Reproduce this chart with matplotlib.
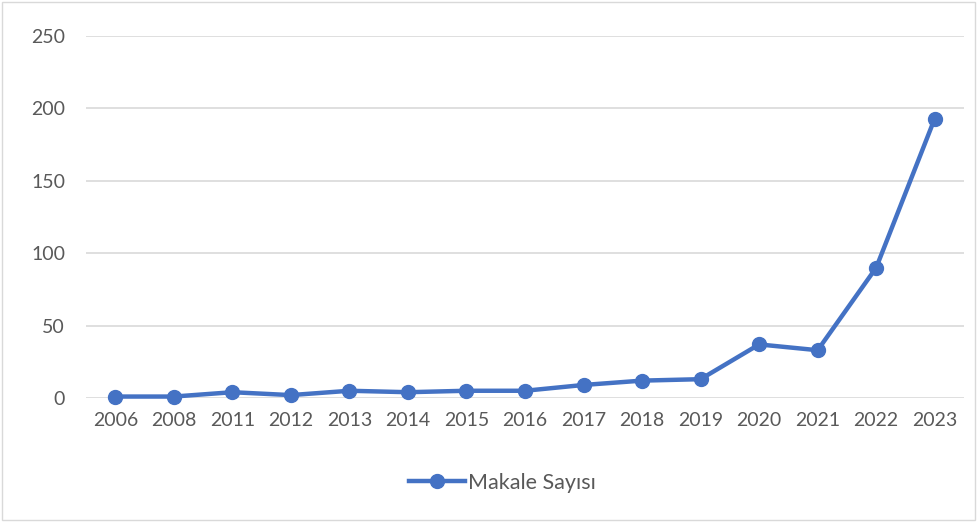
import matplotlib
matplotlib.use('Agg')
import matplotlib.pyplot as plt

years = ['2006', '2008', '2011', '2012', '2013', '2014', '2015', '2016',
         '2017', '2018', '2019', '2020', '2021', '2022', '2023']
article_counts = [1, 1, 4, 2, 5, 4, 5, 5, 9, 12, 13, 37, 33, 90, 193]
y_ticks = [0, 50, 100, 150, 200, 250]

line_color = '#4472C4'
text_color = '#595959'
plt.rcParams['font.family'] = ['Lato', 'DejaVu Sans']

fig = plt.figure(figsize=(9.79, 5.22), dpi=100)
ax = fig.add_axes([86 / 979, 1 - 398 / 522, 878 / 979, 362 / 522])

x = list(range(len(years)))
ax.plot(x, article_counts, color=line_color, linewidth=3.2, marker='o',
        markersize=10, label='Makale Sayısı', zorder=3, clip_on=False)

ax.set_xlim(-0.5, len(years) - 0.5)
ax.set_ylim(0, 250)
ax.set_yticks(y_ticks)
ax.set_xticks(x)
ax.set_xticklabels(years)
ax.grid(axis='y', color='#D9D9D9', linewidth=1.2)
ax.set_axisbelow(True)
for side in ['top', 'right', 'left', 'bottom']:
    ax.spines[side].set_visible(False)
ax.tick_params(length=0, labelsize=14, colors=text_color)
ax.tick_params(axis='x', pad=10)
ax.tick_params(axis='y', pad=15)

fig.legend(loc='center', bbox_to_anchor=(0.5 + 13 / 979, 1 - 483 / 522),
           frameon=False, fontsize=15.5, labelcolor=text_color,
           handlelength=2.6, handletextpad=0.1)

# chart border
fig.patches.append(plt.Rectangle((0.002, 0.003), 0.994, 0.993, fill=False,
                                 edgecolor='#D9D9D9', linewidth=1,
                                 transform=fig.transFigure, figure=fig))

fig.savefig('out.png', dpi=100)
